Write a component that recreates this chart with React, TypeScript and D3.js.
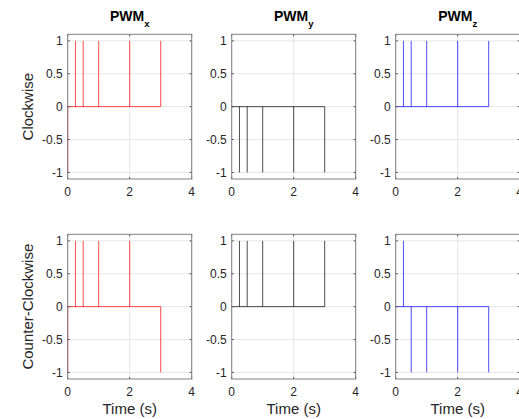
import React from "react";
import * as d3 from "d3";

// pulse times (s) and stem values for each panel
const times = [0, 0.25, 0.5, 1, 2, 3];
const cwX = [-1, 1, 1, 1, 1, 1];
const cwY = [0, -1, -1, -1, -1, -1];
const cwZ = [0, 1, 1, 1, 1, 1];
const ccwX = [-1, 1, 1, 1, 1, -1];
const ccwY = [0, 1, 1, 1, 1, 1];
const ccwZ = [0, 1, -1, -1, -1, -1];

const xTicks = [0, 2, 4];
const yTicks = [-1, -0.5, 0, 0.5, 1];
const titles = ["PWM", "PWM", "PWM"];
const subs = ["x", "y", "z"];
const rowLabels = ["Clockwise", "Counter-Clockwise"];
const colors = ["#ff0000", "#000000", "#0000ff"];
const rows = [
  [cwX, cwY, cwZ],
  [ccwX, ccwY, ccwZ]
];

const W = 519;
const H = 419;
const axLeft = [67.7, 231.7, 395.7];
const axTop = [34.3, 234.3];
const axW = 124;
const axH = 144.7;
const font = "'Liberation Sans', Arial, sans-serif";
const textColor = "#262626";

function Panel({ vals, col, row }: { vals: number[]; col: number; row: number }) {
  const x = d3.scaleLinear().domain([0, 4]).range([0, axW]);
  const y = d3.scaleLinear().domain([-1.1, 1.1]).range([axH, 0]);
  let d = `M${x(times[0])},${y(0)}L${x(times[times.length - 1])},${y(0)}`;
  times.forEach((t, i) => {
    if (vals[i] !== 0) d += `M${x(t)},${y(0)}L${x(t)},${y(vals[i])}`;
  });
  return (
    <g transform={`translate(${axLeft[col]},${axTop[row]})`}>
      <rect width={axW} height={axH} fill="#fff" />
      {xTicks.map(t => (
        <line key={"gx" + t} x1={x(t)} x2={x(t)} y1={0} y2={axH} stroke="#e6e6e6" />
      ))}
      {yTicks.map(t => (
        <line key={"gy" + t} x1={0} x2={axW} y1={y(t)} y2={y(t)} stroke="#e6e6e6" />
      ))}
      <path d={d} fill="none" stroke={colors[col]} strokeWidth={1} strokeOpacity={0.7} />
      {xTicks.map(t => (
        <g key={"tx" + t}>
          <line x1={x(t)} x2={x(t)} y1={axH} y2={axH - 2} stroke="#444" />
          <line x1={x(t)} x2={x(t)} y1={0} y2={2} stroke="#444" />
          <text x={x(t)} y={axH + 17} textAnchor="middle" fontSize={12} fill={textColor} fontFamily={font}>
            {t}
          </text>
        </g>
      ))}
      {yTicks.map(t => (
        <g key={"ty" + t}>
          <line x1={0} x2={2} y1={y(t)} y2={y(t)} stroke="#444" />
          <line x1={axW} x2={axW - 2} y1={y(t)} y2={y(t)} stroke="#444" />
          <text x={-5} y={y(t) + 4.2} textAnchor="end" fontSize={12} fill={textColor} fontFamily={font}>
            {t}
          </text>
        </g>
      ))}
      <rect width={axW} height={axH} fill="none" stroke="#808080" />
      {row === 0 && (
        <text x={axW / 2} y={-13.3} textAnchor="middle" fontSize={14} fontWeight="bold" fill="#000" fontFamily={font}>
          {titles[col]}
          <tspan fontSize={9.5} dy={6}>{subs[col]}</tspan>
        </text>
      )}
      {row === 1 && (
        <text x={axW / 2} y={axH + 35} textAnchor="middle" fontSize={15} fill={textColor} fontFamily={font}>
          Time (s)
        </text>
      )}
      {col === 0 && (
        <text
          transform={`translate(${-35},${axH / 2}) rotate(-90)`}
          textAnchor="middle"
          fontSize={15}
          fill={textColor}
          fontFamily={font}
        >
          {rowLabels[row]}
        </text>
      )}
    </g>
  );
}

export default function App() {
  return (
    <svg width={W} height={H} style={{ position: "absolute", left: 0, top: 0, background: "#fff" }}>
      <rect width={W} height={H} fill="#fff" />
      {rows.map((r, ri) => r.map((vals, ci) => <Panel key={ri + "-" + ci} vals={vals} col={ci} row={ri} />))}
    </svg>
  );
}
